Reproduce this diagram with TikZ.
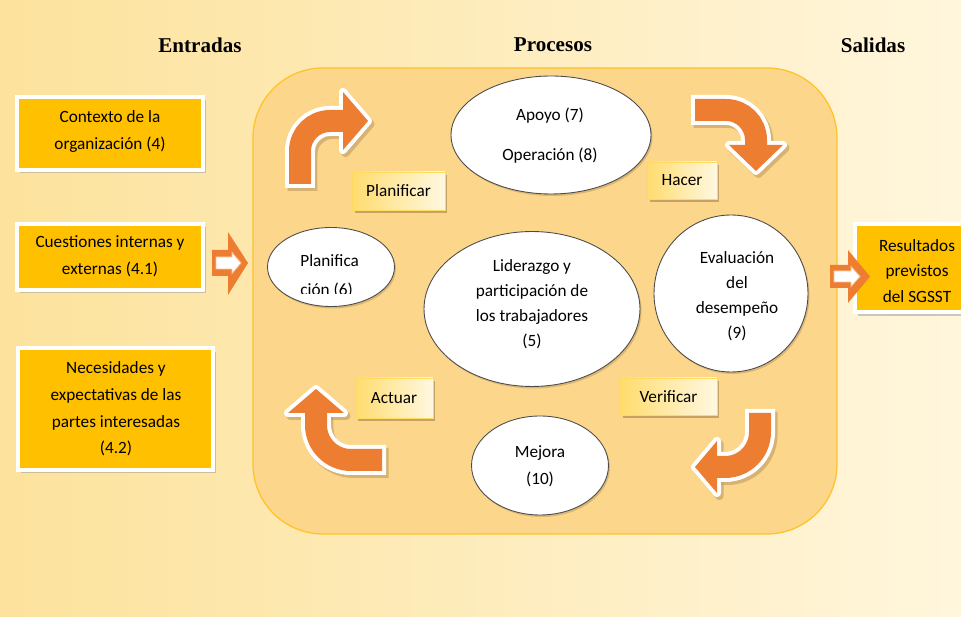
\documentclass[tikz,border=0pt]{standalone}
\usepackage{fontspec}
\setmainfont{Carlito}
\newfontfamily\titlefont{Liberation Serif}
\usetikzlibrary{shapes.geometric,shadows}
\definecolor{bgA}{RGB}{252,226,156}
\definecolor{bgB}{RGB}{255,246,220}
\definecolor{cont}{RGB}{252,214,138}
\definecolor{contb}{RGB}{255,195,40}
\definecolor{gold}{RGB}{255,192,0}
\definecolor{arr}{RGB}{237,125,49}
\definecolor{shad}{RGB}{185,150,95}
\definecolor{labA}{RGB}{255,220,110}
\definecolor{labB}{RGB}{255,248,225}
\definecolor{labb}{RGB}{255,218,95}
\definecolor{inarr}{RGB}{248,196,160}
\newcommand\bentarr[4]{%
  \begin{scope}[shift={(2.5,3)}]
    \draw[line width=0.6cm, shad, opacity=0.55, rounded corners=#4] #1;
    \filldraw[shad, opacity=0.55, line width=0.16cm, line join=round] #3;
  \end{scope}
  \draw[line width=0.6cm, white, rounded corners=#4] #1;
  \filldraw[white, line width=0.16cm, line join=round] #3;
  \draw[line width=0.44cm, arr, rounded corners=#4] #2;
  \fill[arr] #3;
}
\begin{document}
\begin{tikzpicture}[x=0.02cm,y=-0.02cm,
  txt/.style={font=\fontsize{9.8}{15.2}\selectfont, align=center, inner sep=0},
  etxt/.style={font=\fontsize{9.8}{14.2}\selectfont, align=center, inner sep=0},
  title/.style={font=\titlefont\fontsize{12}{14}\selectfont\bfseries, inner sep=0},
  inbox/.style={draw=white, line width=0.08cm, fill=gold, inner sep=0,
    drop shadow={shadow xshift=0.06cm, shadow yshift=-0.07cm, fill=black!40, opacity=0.5}},
  lab/.style={draw=labb, line width=0.5pt, left color=labA, right color=labB, inner sep=0,
    font=\fontsize{9.8}{12}\selectfont,
    drop shadow={shadow xshift=0.05cm, shadow yshift=-0.06cm, fill=shad, opacity=0.8}},
  ell/.style={ellipse, draw=black!70, fill=white, line width=0.5pt, inner sep=0,
    drop shadow={shadow xshift=0.03cm, shadow yshift=-0.04cm, fill=shad, opacity=0.5}},
]
\useasboundingbox (0,0) rectangle (961,617);
\shade[left color=bgA, right color=bgB] (0,0) rectangle (961,617);

% titles
\node[title] (tin) at (200,45) {Entradas};
\node[title] (tproc) at (553,45) {Procesos};
\node[title] (tout) at (873,45) {Salidas};

% process container
\draw[fill=cont, draw=contb, line width=0.7pt, rounded corners=1.4cm] (253,68) rectangle (837,534);

% input boxes
\node[inbox, minimum width=3.72cm, minimum height=1.46cm] (in1) at (110,133.5) {};
\node[txt] (in1t) at (110,131.5) {Contexto de la\\organización (4)};
\node[inbox, minimum width=3.72cm, minimum height=1.32cm] (in2) at (110,257) {};
\node[txt] (in2t) at (110,256.5) {Cuestiones internas y\\externas (4.1)};
\node[inbox, minimum width=3.9cm, minimum height=2.44cm] (in3) at (115.5,409) {};
\node[txt] (in3t) at (116,409) {Necesidades y\\expectativas de las\\partes interesadas\\(4.2)};

% output box
\node[inbox, minimum width=2.5cm, minimum height=1.78cm] (out) at (917,268) {};
\node[txt, font=\fontsize{9.8}{14.7}\selectfont] (outt) at (917,271) {Resultados\\previstos\\del SGSST};

% small block arrows
\fill[arr] (212,250) -- (228,250) -- (228,232) -- (248,263) -- (228,295) -- (228,276) -- (212,276) -- cycle;
\filldraw[fill=white, draw=inarr, line width=0.5pt] (216,257) -- (232,257) -- (232,252.5) -- (241,263) -- (232,273.5) -- (232,269) -- (216,269) -- cycle;
\fill[arr] (830,265) -- (848,265) -- (848,250) -- (870,276.5) -- (848,303) -- (848,288) -- (830,288) -- cycle;
\filldraw[fill=white, draw=inarr, line width=0.5pt] (834,271) -- (851,271) -- (851,266.5) -- (860,276.5) -- (851,286.5) -- (851,282) -- (834,282) -- cycle;

% ellipses
\node[ell, minimum width=4cm, minimum height=2.36cm] (apoyo) at (551,135) {};
\node[etxt] (apoyot) at (550,136) {Apoyo (7)\\[8.6pt]Operación (8)};
\node[ell, minimum width=2.54cm, minimum height=1.58cm] (plan) at (331,267) {};
\node[etxt, anchor=base west] (plant) at (300,267) {Planifica};
\begin{scope}
  \clip (290,250) rectangle (380,294);
  \node[etxt, anchor=base west] (plant2) at (300,296) {ción (6)};
\end{scope}
\node[ell, minimum width=4.32cm, minimum height=3.1cm] (lid) at (532,309) {};
\node[etxt] (lidt) at (532,304) {Liderazgo y\\participación de\\los trabajadores\\(5)};
\node[ell, minimum width=3.08cm, minimum height=3.14cm] (eval) at (731,293.5) {};
\node[etxt] (evalt) at (737,296) {Evaluación\\del\\desempeño\\(9)};
\node[ell, minimum width=2.74cm, minimum height=1.98cm] (mej) at (540,465.5) {};
\node[etxt, font=\fontsize{9.8}{15.2}\selectfont] (mejt) at (540,466) {Mejora\\(10)};

% PHVA labels
\node[lab, minimum width=1.86cm, minimum height=0.76cm] (lplan) at (398.5,191) {Planificar};
\node[lab, minimum width=1.4cm, minimum height=0.74cm] (lhacer) at (682,180.5) {Hacer};
\node[lab, minimum width=1.56cm, minimum height=0.8cm] (lact) at (394,398) {Actuar};
\node[lab, minimum width=1.94cm, minimum height=0.74cm] (lver) at (668.5,396.5) {Verificar};

% bent arrows
\bentarr{(300,188) -- (300,121) -- (347,121)}{(300,184) -- (300,121) -- (347,121)}{(343,92) -- (368,121) -- (343,150) -- cycle}{0.6cm}
\bentarr{(691,110) -- (756,110) -- (756,149)}{(695,110) -- (756,110) -- (756,149)}{(729,145) -- (756,171) -- (783,145) -- cycle}{0.6cm}
\bentarr{(760,409) -- (760,467) -- (713,467)}{(760,413) -- (760,467) -- (713,467)}{(717,441) -- (695,467) -- (717,493) -- cycle}{0.7cm}
\bentarr{(386,460) -- (316,460) -- (316,409)}{(382,460) -- (316,460) -- (316,409)}{(288,413) -- (316,389) -- (344,413) -- cycle}{0.7cm}
\end{tikzpicture}
\end{document}
